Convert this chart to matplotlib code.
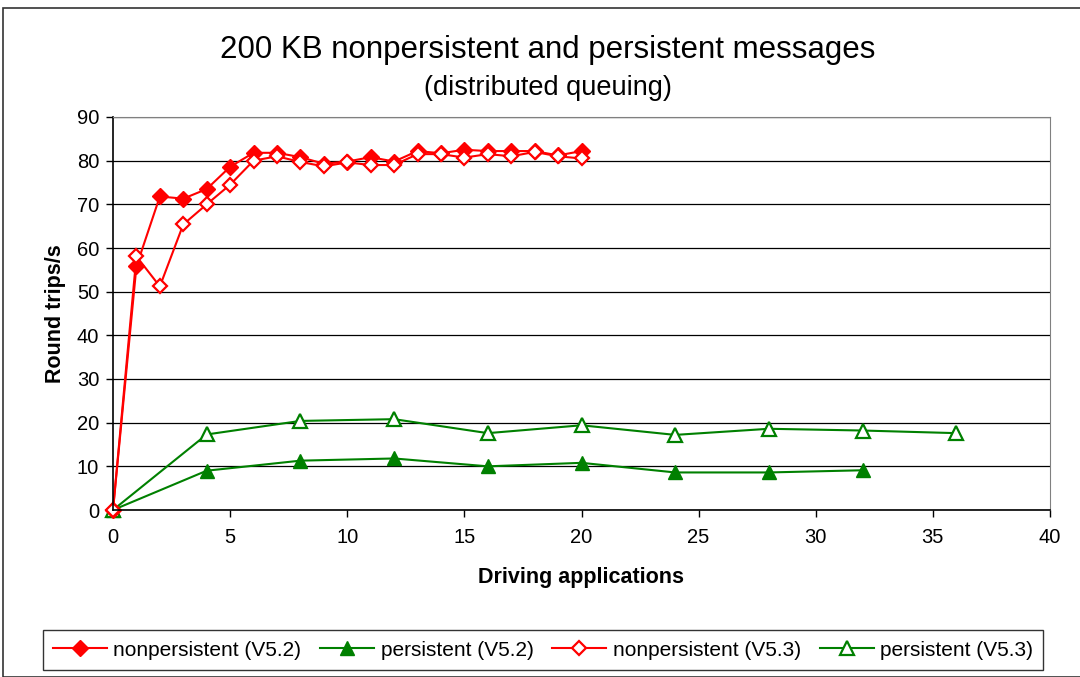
import matplotlib
matplotlib.use("Agg")
import matplotlib.pyplot as plt
from matplotlib.patches import Rectangle

plt.rcParams['font.family'] = ['Liberation Sans', 'DejaVu Sans']

x_np = list(range(0, 21))
np_v52 = [0, 55.8, 71.8, 71.3, 73.5, 78.6, 81.8, 81.8, 80.8, 79.3, 79.8, 80.8, 79.8,
          82.2, 81.7, 82.5, 82.2, 82.2, 82.2, 81.2, 82.2]
np_v53 = [0, 58.1, 51.2, 65.4, 70.0, 74.5, 80.0, 81.0, 79.7, 78.7, 79.6, 79.0, 79.0,
          81.5, 81.5, 80.7, 81.5, 81.0, 82.0, 81.0, 80.5]
x_p52 = [0, 4, 8, 12, 16, 20, 24, 28, 32]
p_v52 = [0, 9.0, 11.3, 11.8, 10.0, 10.8, 8.6, 8.6, 9.1]
x_p53 = [0, 4, 8, 12, 16, 20, 24, 28, 32, 36]
p_v53 = [0, 17.3, 20.4, 20.8, 17.6, 19.4, 17.2, 18.6, 18.2, 17.6]

labels = ["nonpersistent (V5.2)", "persistent (V5.2)",
          "nonpersistent (V5.3)", "persistent (V5.3)"]
title = "200 KB nonpersistent and persistent messages"
subtitle = "(distributed queuing)"

W, H = 1080, 677
fig = plt.figure(figsize=(W / 100, H / 100), dpi=100)
ax = fig.add_axes([113 / W, 1 - 510 / H, (1050 - 113) / W, (510 - 117) / H])

red = '#ff0000'
green = '#008000'
ax.plot(x_np, np_v52, color=red, lw=1.5, marker='D', ms=8, mfc=red, mec=red,
        label=labels[0], zorder=4)
ax.plot(x_p52, p_v52, color=green, lw=1.5, marker='^', ms=10, mfc=green, mec=green,
        label=labels[1], zorder=3)
ax.plot(x_np, np_v53, color=red, lw=1.5, marker='D', ms=7.5, mfc='white', mec=red,
        mew=1.6, label=labels[2], zorder=5)
ax.plot(x_p53, p_v53, color=green, lw=1.5, marker='^', ms=10, mfc='white', mec=green,
        mew=1.6, label=labels[3], zorder=3)

ax.set_xlim(0, 40)
ax.set_ylim(0, 90)
ax.set_xticks(range(0, 41, 5))
ax.set_yticks(range(0, 91, 10))
ax.yaxis.grid(True, color='black', lw=0.9)
ax.set_axisbelow(True)
ax.tick_params(axis='both', direction='out', length=5, width=1, labelsize=14.5,
               color='black')
ax.tick_params(axis='x', pad=8)
ax.tick_params(axis='y', pad=5)
for s in ['top', 'right']:
    ax.spines[s].set_color('#808080')
for s in ['left', 'bottom']:
    ax.spines[s].set_color('black')
    ax.spines[s].set_linewidth(1.2)
for sp in ax.spines.values():
    sp.set_zorder(6)
for l in ax.lines:
    l.set_clip_on(False)

ax.set_xlabel("Driving applications", fontsize=15.5, fontweight='bold', labelpad=14)
ax.set_ylabel("Round trips/s", fontsize=15.5, fontweight='bold', labelpad=8)

fig.text(548 / W, 1 - 50 / H, title, ha='center', va='center', fontsize=22.5)
fig.text(548 / W, 1 - 88 / H, subtitle, ha='center', va='center', fontsize=19.5)

# outer frame
fig.patches.append(Rectangle((3 / W, 0), 1.2, 1 - 8 / H, transform=fig.transFigure,
                             fill=False, edgecolor='#333333', lw=1.2))

leg = fig.legend(loc='center', bbox_to_anchor=(543 / W, 1 - 650 / H), ncol=4,
                 fontsize=15, frameon=True, fancybox=False, edgecolor='black',
                 handlelength=2.6, handletextpad=0.3, columnspacing=0.9,
                 borderpad=0.5)
leg.get_frame().set_linewidth(1.0)

fig.savefig("out.png", dpi=100)
